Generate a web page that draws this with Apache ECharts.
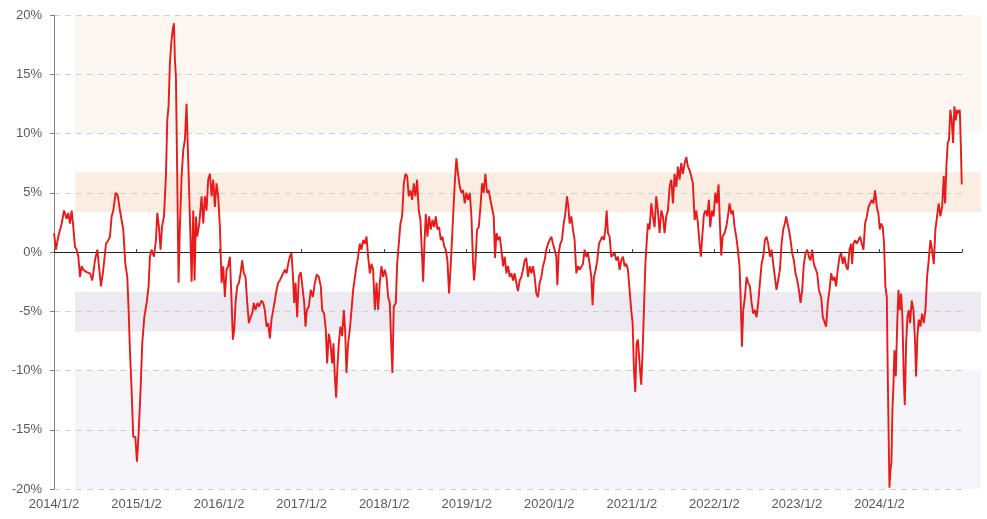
<!DOCTYPE html>
<html><head><meta charset="utf-8">
<script src="https://cdn.jsdelivr.net/npm/echarts@6/dist/echarts.min.js"></script>
<style>html,body{margin:0;padding:0;background:#fff}#c{width:987px;height:519px}</style>
</head><body><div id="c"></div>
<script>
// Tick labels (x axis) and y ticks
const xTickLabels = ['2014/1/2','2015/1/2','2016/1/2','2017/1/2','2018/1/2','2019/1/2','2020/1/2','2021/1/2','2022/1/2','2023/1/2','2024/1/2'];
const yTicks = [-20,-15,-10,-5,0,5,10,15,20];
// Shaded bands [low, high] in %
const bandHigh = [10, 20];
const bandMidUp = [3.35, 6.7];
const bandMidDown = [-6.7, -3.35];
const bandLow = [-20, -10];

// Dates as decimal years
const dates = [
2014.000,2014.024,2014.052,2014.093,2014.121,2014.153,2014.173,2014.194,2014.214,2014.234,
2014.254,2014.274,2014.295,2014.315,2014.335,2014.355,2014.395,2014.436,2014.464,2014.496,
2014.525,2014.549,2014.569,2014.597,2014.630,2014.658,2014.678,2014.698,2014.718,2014.747,
2014.771,2014.799,2014.819,2014.839,2014.864,2014.888,2014.904,2014.920,2014.940,2014.960,
2014.985,2015.005,2015.025,2015.049,2015.069,2015.094,2015.122,2015.146,2015.162,2015.182,
2015.211,2015.235,2015.251,2015.271,2015.291,2015.308,2015.332,2015.356,2015.372,2015.388,
2015.404,2015.420,2015.437,2015.453,2015.465,2015.477,2015.493,2015.509,2015.525,2015.546,
2015.566,2015.586,2015.606,2015.622,2015.638,2015.655,2015.667,2015.687,2015.703,2015.719,
2015.735,2015.760,2015.788,2015.808,
2015.828,2015.848,2015.868,2015.889,2015.909,2015.929,2015.949,2015.969,2015.989,2016.010,
2016.030,2016.050,2016.070,2016.090,2016.110,2016.131,2016.151,2016.167,2016.183,2016.199,
2016.219,2016.240,2016.260,2016.280,2016.300,2016.320,2016.341,2016.361,2016.381,2016.401,
2016.421,2016.441,2016.466,2016.486,2016.514,2016.534,2016.554,2016.575,2016.595,2016.615,
2016.635,2016.655,2016.675,2016.696,2016.716,2016.736,2016.756,2016.776,2016.797,2016.817,
2016.837,2016.857,2016.877,2016.893,2016.910,2016.926,2016.946,2016.966,2016.990,2017.014,
2017.031,2017.047,2017.063,2017.087,2017.111,2017.135,2017.160,2017.184,2017.208,2017.232,
2017.249,2017.273,2017.293,2017.309,2017.329,2017.349,2017.370,2017.386,2017.402,2017.418,
2017.434,2017.450,2017.470,2017.491,2017.511,2017.527,2017.543,2017.563,2017.583,2017.604,
2017.624,2017.644,2017.664,2017.684,
2017.705,2017.725,2017.745,2017.765,2017.786,2017.806,2017.826,2017.846,2017.866,2017.887,
2017.907,2017.927,2017.947,2017.967,2017.987,2018.008,2018.028,2018.048,2018.068,2018.088,
2018.100,2018.116,2018.141,2018.157,2018.177,2018.197,2018.217,2018.238,2018.258,2018.278,
2018.298,2018.318,2018.339,2018.359,2018.379,2018.399,2018.419,2018.439,2018.456,2018.472,
2018.488,2018.504,2018.524,2018.544,2018.565,2018.585,2018.605,2018.625,2018.645,2018.665,
2018.686,2018.706,2018.726,2018.746,2018.766,2018.786,2018.803,2018.819,2018.835,2018.855,
2018.875,2018.895,2018.916,2018.936,2018.956,2018.976,2018.996,2019.017,2019.037,2019.057,
2019.077,2019.089,2019.105,2019.125,2019.146,2019.166,2019.186,2019.206,2019.226,2019.246,
2019.267,2019.287,2019.307,2019.327,2019.343,2019.360,2019.380,2019.400,2019.420,2019.440,
2019.460,2019.481,2019.501,2019.521,2019.541,2019.561,
2019.581,2019.601,2019.621,2019.642,2019.662,2019.682,2019.702,2019.722,2019.742,2019.763,
2019.783,2019.803,2019.823,2019.843,2019.863,2019.884,2019.904,2019.924,2019.944,2019.964,
2019.985,2020.005,2020.025,2020.045,2020.065,2020.085,2020.098,2020.114,2020.134,2020.154,
2020.174,2020.194,2020.215,2020.231,2020.247,2020.267,2020.287,2020.307,2020.328,2020.348,
2020.368,2020.388,2020.408,2020.428,2020.449,2020.469,2020.489,2020.509,2020.525,2020.541,
2020.562,2020.582,2020.602,2020.622,2020.642,2020.662,2020.679,2020.695,2020.711,2020.731,
2020.751,2020.771,2020.792,2020.812,2020.832,2020.852,2020.872,2020.893,2020.913,2020.933,
2020.953,2020.973,2020.993,2021.010,2021.026,2021.042,2021.058,2021.074,2021.094,2021.114,
2021.131,2021.147,2021.163,2021.179,2021.195,2021.215,2021.236,2021.256,2021.276,2021.296,
2021.316,2021.336,2021.357,2021.377,2021.397,2021.417,2021.437,
2021.458,2021.478,2021.498,2021.518,2021.539,2021.559,2021.579,2021.599,2021.619,2021.640,
2021.660,2021.680,2021.700,2021.720,2021.740,2021.761,2021.781,2021.801,2021.821,2021.837,
2021.853,2021.874,2021.894,2021.914,2021.934,2021.950,2021.970,2021.991,2022.011,2022.031,
2022.051,2022.067,2022.083,2022.100,2022.124,2022.144,2022.164,2022.184,2022.205,2022.225,
2022.245,2022.265,2022.285,2022.305,2022.318,2022.334,2022.350,2022.370,2022.390,2022.410,
2022.431,2022.451,2022.471,2022.491,2022.511,2022.531,2022.552,2022.572,2022.592,2022.612,
2022.632,2022.652,2022.673,2022.693,2022.713,2022.733,2022.753,2022.774,2022.794,2022.814,
2022.834,2022.854,2022.870,2022.887,2022.903,2022.923,2022.943,2022.963,2022.983,2023.004,
2023.024,2023.044,2023.064,2023.084,2023.105,2023.125,2023.145,2023.165,2023.185,2023.205,
2023.226,2023.246,2023.266,2023.294,2023.314,
2023.354,2023.374,2023.395,2023.415,2023.435,2023.455,2023.475,2023.495,2023.516,2023.536,
2023.556,2023.576,2023.596,2023.616,2023.637,2023.657,2023.669,2023.685,2023.705,2023.725,
2023.746,2023.766,2023.786,2023.806,2023.826,2023.847,2023.867,2023.887,2023.907,2023.927,
2023.947,2023.968,2023.988,2024.004,2024.020,2024.040,2024.056,2024.072,2024.089,2024.101,
2024.113,2024.121,2024.133,2024.145,2024.157,2024.169,2024.181,2024.198,2024.214,2024.230,
2024.246,2024.262,2024.278,2024.294,2024.307,2024.323,2024.339,2024.355,2024.371,2024.391,
2024.412,2024.432,2024.444,2024.460,2024.476,2024.496,2024.516,2024.537,2024.557,2024.577,
2024.597,2024.617,2024.637,2024.658,2024.678,2024.698,2024.718,2024.738,2024.759,2024.779,
2024.795,2024.811,2024.827,2024.843,2024.859,2024.876,2024.892,2024.908,2024.924,2024.940,
2024.957,2024.973,2024.985,2024.997
];
// Values in %
const values = [
1.6,0.2,1.3,2.4,3.5,2.8,3.3,2.4,3.5,2.1,
0.45,0.2,-0.4,-2.1,-1.2,-1.5,-1.7,-1.8,-2.4,-0.7,
0.2,-1.5,-2.9,-1.5,0.7,1.0,1.3,3.0,3.5,5.0,
4.8,3.5,2.7,1.9,-1.0,-2.1,-4.9,-8.3,-11.6,-15.6,
-15.6,-17.7,-15.3,-11.6,-7.7,-5.5,-4.3,-2.9,-0.4,0.2,
-0.4,1.0,3.3,2.1,0.2,2.1,3.0,6.4,11.1,12.3,
15.9,17.6,18.7,19.3,16.2,14.8,6.4,-2.6,2.1,6.4,
8.6,9.5,12.5,8.6,5.0,0.7,-2.5,3.5,-2.4,3.0,
1.3,2.4,4.7,2.4,
4.7,3.5,6.1,6.6,4.7,6.1,3.8,5.8,4.7,2.1,
-2.6,-1.2,-3.8,-1.5,-1.2,-0.4,-4.1,-7.4,-6.6,-4.3,
-2.9,-2.6,-1.8,-0.7,-1.8,-2.1,-4.3,-6.0,-5.5,-5.2,
-4.3,-4.9,-4.3,-4.6,-4.1,-4.3,-4.9,-6.3,-6.0,-7.3,
-5.7,-4.9,-4.1,-3.2,-2.6,-2.4,-2.1,-1.8,-1.5,-1.8,
-1.0,-0.4,-0.1,-1.8,-4.3,-2.6,-5.5,-2.1,-1.7,-1.8,
-4.3,-6.3,-4.9,-4.6,-3.2,-3.8,-2.6,-1.9,-2.1,-2.9,
-4.9,-5.2,-6.6,-9.4,-6.9,-7.7,-9.4,-7.7,-10.5,-12.3,
-9.7,-7.7,-6.3,-7.1,-4.9,-6.6,-10.2,-7.7,-6.6,-4.9,
-3.2,-3.2,-1.2,-0.4,
0.7,0.2,1.0,0.7,1.3,-0.4,-1.8,-1.0,-1.5,-4.9,
-2.6,-4.9,-2.6,-1.2,-2.1,-1.5,-2.1,-3.8,-4.3,-8.3,
-10.2,-4.6,-4.3,-1.0,0.7,2.4,3.0,5.8,6.6,6.4,
4.7,5.2,4.4,5.8,4.7,6.1,3.5,2.7,0.2,-2.5,
0.7,3.2,1.3,3.0,1.9,2.7,2.1,3.0,1.9,2.1,
1.0,1.3,0.5,0.2,-0.7,-3.5,-1.5,0.7,3.0,5.8,
7.9,6.6,5.5,5.0,5.2,4.1,5.0,4.4,5.0,3.0,
-1.0,-2.4,-1.0,1.9,2.1,3.8,5.8,5.0,6.6,5.0,
5.2,4.4,4.4,3.0,-0.5,1.6,1.0,1.3,0.2,-1.2,
-0.4,-1.8,-1.2,-2.1,-1.8,-2.4,
-1.8,-2.6,-3.3,-2.4,-2.1,-1.5,-0.7,-0.5,-2.1,-1.2,
-1.8,-1.2,-2.1,-3.5,-3.8,-2.6,-2.1,-1.2,-0.7,0.2,
0.7,1.0,1.3,0.7,0.2,-0.4,-2.8,-0.1,0.7,1.0,
2.4,3.2,4.7,3.8,2.4,3.0,1.9,1.0,-1.8,-1.2,
-1.5,-1.4,-1.0,0.2,-0.4,-0.1,-1.0,-2.1,-4.5,-2.1,
-1.5,-0.7,0.7,1.0,1.3,1.0,1.9,3.5,1.6,1.3,
-0.4,-0.4,-0.1,-0.7,-0.4,-1.5,-0.7,-0.4,-1.2,-1.0,
-1.5,-3.2,-4.9,-6.0,-10.0,-11.8,-7.7,-7.4,-9.4,-11.2,
-8.3,-4.9,-1.2,0.7,2.4,1.9,4.1,3.0,2.1,4.7,
3.5,1.6,3.5,3.0,1.6,3.0,3.5,
5.5,6.1,4.1,6.6,5.5,7.2,6.1,7.5,6.6,7.5,
8.0,7.2,6.9,6.4,5.8,2.7,3.5,2.4,0.7,-0.4,
1.3,3.2,3.5,3.0,4.4,2.1,3.5,3.0,5.0,4.1,
5.7,2.4,-0.3,1.3,1.6,2.1,3.0,4.1,3.2,3.5,
2.1,1.3,0.2,-1.2,-3.8,-8.0,-4.9,-3.8,-2.1,-2.6,
-2.9,-4.3,-5.2,-4.9,-5.5,-4.3,-2.6,-1.0,-0.4,1.0,
1.3,0.7,-0.4,0.2,-1.0,-2.1,-3.2,-3.2,-1.5,0.7,
1.9,2.4,3.0,2.4,1.9,1.0,-0.1,-0.7,-1.8,-2.4,
-3.2,-4.3,-3.2,-1.0,-0.1,0.2,-0.4,-0.7,0.2,-1.0,
-1.0,-1.8,-3.2,-3.8,-5.5,
-6.3,-4.3,-3.2,-1.8,-2.4,-2.1,-2.9,-1.5,-0.4,-0.1,
-1.0,-0.4,-1.2,-1.5,0.2,0.7,-1.0,0.7,1.0,0.7,
1.0,1.3,0.7,0.2,2.4,3.0,3.8,4.1,4.4,4.1,
5.2,3.8,3.2,1.9,2.4,2.1,0.7,-2.9,-3.8,-10.5,
-16.2,-19.9,-18.4,-17.8,-13.3,-11.4,-8.3,-10.5,-6.3,-3.2,
-4.9,-3.5,-5.5,-10.5,-12.9,-7.7,-5.5,-4.9,-6.0,-4.1,
-4.9,-7.7,-10.5,-7.1,-5.7,-6.3,-5.2,-6.0,-4.9,-2.1,
-0.7,1.0,0.2,-1.0,1.9,3.0,4.1,3.0,3.8,6.4,
4.1,7.2,9.2,9.5,12.0,11.1,9.2,12.3,11.1,12.0,
11.7,12.0,9.2,5.7
];

const n = Math.min(dates.length, values.length);
const seriesData = [];
for (let i = 0; i < n; i++) seriesData.push([dates[i], values[i]]);

const FONT = '"Liberation Sans", Arial, sans-serif';
const chart = echarts.init(document.getElementById('c'), null, {renderer: 'canvas'});
chart.setOption({
  animation: false,
  backgroundColor: '#ffffff',
  grid: [
    {left: 54, right: 25, top: 15, bottom: 30},
    {left: 75, right: 6, top: 15, bottom: 30}
  ],
  xAxis: [
    {
      type: 'value', gridIndex: 0, min: 2014, max: 2025, interval: 1,
      position: 'bottom',
      axisLine: {show: false, onZero: false},
      axisTick: {show: false},
      splitLine: {show: false},
      axisLabel: {
        color: '#5a5a5a', fontSize: 13, fontFamily: FONT, margin: 9,
        showMaxLabel: false,
        formatter: function (v) { const i = Math.round(v - 2014); return xTickLabels[i] || ''; }
      }
    },
    {
      type: 'value', gridIndex: 0, min: 2014, max: 2025, interval: 1,
      position: 'bottom',
      axisLine: {show: true, onZero: true, lineStyle: {color: '#222', width: 1}},
      axisTick: {show: true, inside: true, length: 3, lineStyle: {color: '#444'}},
      axisLabel: {show: false},
      splitLine: {show: false}
    },
    {type: 'value', gridIndex: 1, min: 0, max: 1, show: false}
  ],
  yAxis: [
    {
      type: 'value', gridIndex: 0, min: yTicks[0], max: yTicks[yTicks.length - 1], interval: 5,
      axisLine: {show: true, lineStyle: {color: '#7f7f7f'}},
      axisTick: {show: true, length: 4, lineStyle: {color: '#7f7f7f'}},
      axisLabel: {color: '#5a5a5a', fontSize: 13, fontFamily: FONT, margin: 12, formatter: '{value}%'},
      splitLine: {show: true, lineStyle: {color: '#cfcfcf', type: [6, 5], width: 1}}
    },
    {type: 'value', gridIndex: 1, min: -20, max: 20, show: false}
  ],
  series: [
    {
      type: 'line', xAxisIndex: 2, yAxisIndex: 1, z: -5, silent: true,
      data: [[0, 0], [1, 0]], symbol: 'none', lineStyle: {width: 0, opacity: 0},
      markArea: {
        silent: true, z: -5,
        data: [
          [{yAxis: bandHigh[0], itemStyle: {color: '#fdf7f2'}}, {yAxis: bandHigh[1]}],
          [{yAxis: bandMidUp[0], itemStyle: {color: '#fcede2'}}, {yAxis: bandMidUp[1]}],
          [{yAxis: bandMidDown[0], itemStyle: {color: '#edeaf2'}}, {yAxis: bandMidDown[1]}],
          [{yAxis: bandLow[0], itemStyle: {color: '#f6f5f9'}}, {yAxis: bandLow[1]}]
        ]
      }
    },
    {
      type: 'line', xAxisIndex: 0, yAxisIndex: 0, z: 3,
      data: seriesData, symbol: 'none', showSymbol: false,
      lineStyle: {color: '#e81a1a', width: 1.9},
      silent: true
    }
  ]
});
</script>
</body></html>
